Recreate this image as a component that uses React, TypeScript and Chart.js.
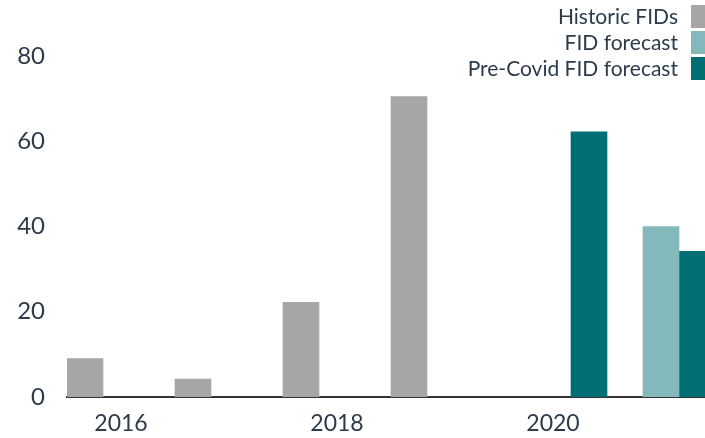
import React, { useEffect, useRef } from "react";
import { Chart, registerables } from "chart.js";

Chart.register(...registerables);

const categories = ["2016", "2017", "2018", "2019", "2020", "2021"];
const shownTicks = ["2016", "2018", "2020"];
const historicFIDs: (number | null)[] = [9, 4.2, 22.2, 70.5, null, null];
const fidForecast: (number | null)[] = [null, null, null, null, null, 40];
const preCovidForecast: (number | null)[] = [null, null, null, null, 62.2, 34.2];
const seriesNames = ["Historic FIDs", "FID forecast", "Pre-Covid FID forecast"];
const seriesColors = ["#a6a6a6", "#84b9bb", "#006f75"];

const FONT = "Lato, 'Open Sans', sans-serif";
const TEXT = "#2b3b4c";

export default function App() {
  const ref = useRef<HTMLCanvasElement | null>(null);

  useEffect(() => {
    if (!ref.current) return;
    const chart = new Chart(ref.current, {
      type: "bar",
      data: {
        labels: categories,
        datasets: [
          { label: seriesNames[0], data: historicFIDs, backgroundColor: seriesColors[0] },
          { label: seriesNames[1], data: fidForecast, backgroundColor: seriesColors[1] },
          { label: seriesNames[2], data: preCovidForecast, backgroundColor: seriesColors[2] },
        ],
      },
      options: {
        responsive: false,
        animation: false,
        devicePixelRatio: 1,
        layout: { padding: { top: 56, right: 0, left: 0, bottom: 0 } },
        datasets: { bar: { barPercentage: 1, categoryPercentage: 1 } },
        plugins: { legend: { display: false }, tooltip: { enabled: false } },
        scales: {
          x: {
            grid: { display: false, drawTicks: false },
            border: { display: true, color: "#333333", width: 2 },
            ticks: {
              autoSkip: false,
              maxRotation: 0,
              padding: 13,
              color: TEXT,
              font: { family: FONT, size: 23 },
              callback: (_v: any, i: number) =>
                shownTicks.includes(categories[i]) ? categories[i] : "",
            },
            afterFit: (s: any) => {
              s.height = 41;
            },
          },
          y: {
            min: 0,
            max: 80,
            grid: { display: false, drawTicks: false },
            border: { display: false },
            ticks: {
              stepSize: 20,
              padding: 22,
              color: TEXT,
              font: { family: FONT, size: 24 },
            },
            afterFit: (s: any) => {
              s.width = 67;
            },
          },
        },
      },
    });
    return () => chart.destroy();
  }, []);

  return (
    <div
      style={{
        position: "fixed",
        left: 0,
        top: 0,
        width: 705,
        height: 438,
        overflow: "hidden",
        background: "#fff",
      }}
    >
      <canvas ref={ref} width={715} height={438} style={{ display: "block" }} />
      <div style={{ position: "absolute", right: 0, top: 3 }}>
        {seriesNames.map((n, i) => (
          <div
            key={n}
            style={{
              display: "flex",
              justifyContent: "flex-end",
              alignItems: "center",
              height: 26,
            }}
          >
            <span
              style={{
                fontFamily: FONT,
                fontSize: 21,
                color: TEXT,
                marginRight: 13,
                lineHeight: "26px",
                whiteSpace: "nowrap",
              }}
            >
              {n}
            </span>
            <span
              style={{
                display: "inline-block",
                width: 14,
                height: 23,
                background: seriesColors[i],
              }}
            />
          </div>
        ))}
      </div>
    </div>
  );
}
